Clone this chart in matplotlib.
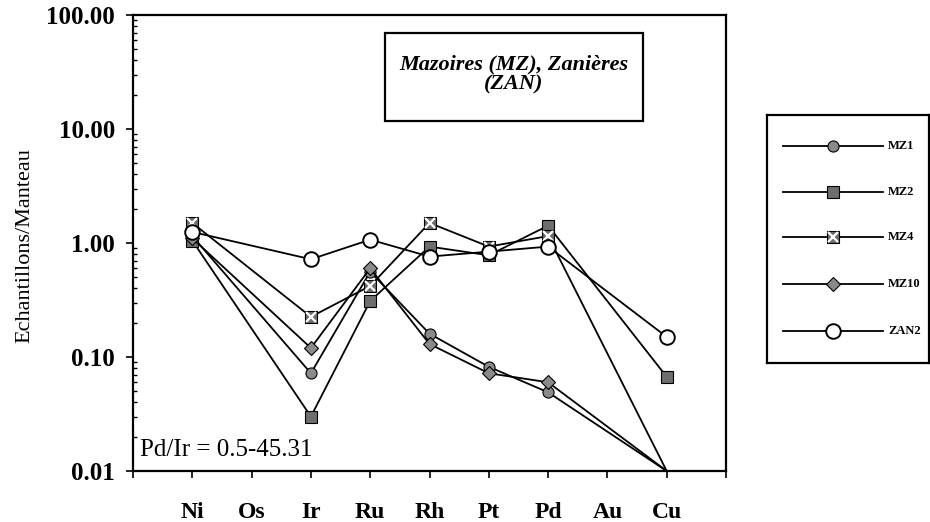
import numpy as np
import matplotlib
matplotlib.use("Agg")
import matplotlib.pyplot as plt
from matplotlib.ticker import FixedLocator, LogLocator, NullFormatter, FuncFormatter

# Normalised concentrations (sample / mantle); NaN = not analysed
elements = ["Ni", "Os", "Ir", "Ru", "Rh", "Pt", "Pd", "Au", "Cu"]
mz1 = [1.15, np.nan, 0.072, 0.56, 0.16, 0.082, 0.049, np.nan, 0.01]
mz2 = [1.05, np.nan, 0.030, 0.31, 0.93, 0.78, 1.42, np.nan, 0.067]
mz4 = [1.50, np.nan, 0.225, 0.42, 1.50, 0.93, 1.15, np.nan, 0.01]
mz10 = [1.10, np.nan, 0.12, 0.60, 0.13, 0.072, 0.060, np.nan, 0.01]
zan2 = [1.25, np.nan, 0.72, 1.07, 0.76, 0.84, 0.93, np.nan, 0.15]
sample_names = ["MZ1", "MZ2", "MZ4", "MZ10", "ZAN2"]
ytick_values = [0.01, 0.1, 1, 10, 100]

plt.rcParams["font.family"] = ["Liberation Serif", "DejaVu Serif"]

W, H = 930, 522
fig = plt.figure(figsize=(W / 100, H / 100), dpi=100)


def px_axes(x0, y0, x1, y1):
    """Axes placed by pixel corners (top-left origin)."""
    return fig.add_axes([x0 / W, 1 - y1 / H, (x1 - x0) / W, (y1 - y0) / H])


ax = px_axes(133, 15, 726, 471)
pos = np.arange(1, len(elements) + 1)

# marker styles per sample
styles = {
    "MZ1": dict(marker="o", ms=8, mfc="#8a8a8a", mec="black", mew=0.8),
    "MZ2": dict(marker="s", ms=8.5, mfc="#6e6e6e", mec="black", mew=0.8),
    "MZ4": dict(marker="s", ms=9, mfc="#6e6e6e", mec="black", mew=0.8),
    "MZ10": dict(marker="D", ms=7, mfc="#8a8a8a", mec="black", mew=0.8),
    "ZAN2": dict(marker="o", ms=10.5, mfc="white", mec="black", mew=1.4),
}
cross = dict(marker="x", ms=7.5, mec="white", mew=1.6)


def series(vals):
    v = np.asarray(vals, dtype=float)
    ok = ~np.isnan(v)
    x, y = pos[ok], v[ok]
    shown = y > 0.0105  # values at the detection floor get no marker
    return x, y, shown


line_kw = dict(color="black", lw=1.3, clip_on=False)

for name, vals in zip(sample_names, [mz1, mz2, mz4, mz10, zan2]):
    x, y, m = series(vals)
    ax.plot(x, y, markevery=list(np.where(m)[0]), **styles[name], **line_kw)
    if name == "MZ4":
        ax.plot(x[m], y[m], ls="none", clip_on=False, **cross)

ax.set_yscale("log")
ax.set_ylim(0.01, 100)
ax.set_xlim(0, 10)

ax.yaxis.set_major_locator(FixedLocator(ytick_values))
ax.yaxis.set_major_formatter(FuncFormatter(lambda v, p: f"{v:.2f}"))
ax.yaxis.set_minor_locator(LogLocator(base=10, subs=np.arange(2, 10)))
ax.yaxis.set_minor_formatter(NullFormatter())
ax.tick_params(axis="y", which="major", direction="out", length=5, width=1.2,
               pad=8, labelsize=18)
ax.tick_params(axis="y", which="minor", direction="in", length=3, width=1)
for t in ax.get_yticklabels():
    t.set_fontweight("bold")

ax.set_xticks(pos)
ax.set_xticks([0, 10], minor=True)
ax.set_xticklabels(elements, fontsize=17, fontweight="bold")
ax.tick_params(axis="x", which="both", direction="out", length=5, width=1.2, pad=17)

for s in ax.spines.values():
    s.set_linewidth(1.6)

fig.text(25 / W, 1 - 246 / H, "Echantillons/Manteau", rotation=90,
         ha="center", va="center", fontsize=16)

fig.text(140 / W, 1 - 450 / H, "Pd/Ir = 0.5-45.31", ha="left", va="center",
         fontsize=18)

# title box inside the plot area
fig.patches.append(plt.Rectangle((385 / W, 1 - 121 / H), (643 - 385) / W,
                                 (121 - 33) / H, transform=fig.transFigure,
                                 fill=False, ec="black", lw=1.6))
fig.text(514 / W, 1 - 74 / H, "Mazoires (MZ), Zanières\n(ZAN)",
         ha="center", va="center", fontsize=16, fontweight="bold",
         fontstyle="italic", linespacing=1.0)

# legend panel, laid out in its own pixel coordinates
lg = px_axes(767, 115, 929, 363)
lg.set_xlim(767, 929)
lg.set_ylim(363, 115)
lg.set_xticks([])
lg.set_yticks([])
for s in lg.spines.values():
    s.set_linewidth(1.6)
row_y = [146, 192, 237, 284, 331]
for name, ry in zip(sample_names, row_y):
    lg.plot([783, 883], [ry, ry], color="black", lw=1.3)
    lg.plot([833], [ry], **styles[name])
    if name == "MZ4":
        lg.plot([833], [ry], ls="none", **cross)
    lg.text(888, ry, name, ha="left", va="center", fontsize=9, fontweight="bold")

fig.savefig("out.png", dpi=100)
